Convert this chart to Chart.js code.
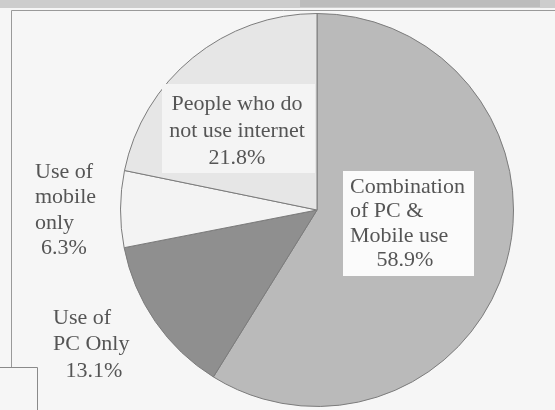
<!DOCTYPE html>
<html>
<head>
<meta charset="utf-8">
<script src="https://cdn.jsdelivr.net/npm/chart.js@4.4.1/dist/chart.umd.min.js"></script>
<style>
  html, body { margin: 0; padding: 0; background: #f6f6f6; }
  #wrap { width: 555px; height: 410px; }
</style>
</head>
<body>
<div id="wrap"><canvas id="pie"></canvas></div>
<script>
// internet usage shares, clockwise from 12 o'clock
const categories = [
    ["Combination", "of PC &", "Mobile use"],
    ["Use of", "PC Only"],
    ["Use of", "mobile", "only"],
    ["People who do", "not use internet"],
];
const shares = [58.9, 13.1, 6.3, 21.8];
const sliceColors = ["#bababa", "#8f8f8f", "#f3f3f3", "#e6e6e6"];

// where each label sits (text line centres, optional backing box)
const labelLayout = [
    { x: 350, y: 187, lineH: 24.5, align: "left", pctX: 405, box: [343, 171, 131, 105, "#fbfbfb"] },
    { x: 53, y: 318, lineH: 26.5, align: "left", pctX: 94 },
    { x: 35, y: 172, lineH: 25.5, align: "left", pctX: 64 },
    { x: 237, y: 104, lineH: 27, align: "center", pctX: 237, box: [162, 84, 153, 89, "#f4f4f4"] },
];

const framePlugin = {
    id: "frame",
    beforeDraw(chart) {
        const ctx = chart.ctx;
        ctx.save();
        ctx.fillStyle = "#f6f6f6";
        ctx.fillRect(0, 0, chart.width, chart.height);
        // strip along the top edge
        ctx.fillStyle = "#cdcdcd";
        ctx.fillRect(0, 0, chart.width, 8);
        ctx.fillStyle = "#bcbcbc";
        ctx.fillRect(300, 0, 240, 7);
        ctx.strokeStyle = "#9a9a9a";
        ctx.lineWidth = 1;
        ctx.beginPath();
        ctx.moveTo(11.5, chart.height - 43);
        ctx.lineTo(11.5, 10.5);
        ctx.lineTo(chart.width, 10.5);
        ctx.stroke();
        // small box bottom-left
        ctx.strokeStyle = "#8a8a8a";
        ctx.beginPath();
        ctx.moveTo(0, 367.5);
        ctx.lineTo(37.5, 367.5);
        ctx.lineTo(37.5, chart.height);
        ctx.stroke();
        ctx.restore();
    }
};

const labelPlugin = {
    id: "sliceLabels",
    afterDatasetsDraw(chart) {
        const ctx = chart.ctx;
        ctx.save();
        ctx.font = "22px 'Liberation Serif', 'Times New Roman', serif";
        ctx.textBaseline = "middle";
        categories.forEach((lines, i) => {
            const lay = labelLayout[i];
            if (lay.box) {
                const [bx, by, bw, bh, bc] = lay.box;
                ctx.fillStyle = bc;
                ctx.fillRect(bx, by, bw, bh);
            }
            ctx.fillStyle = "#555555";
            lines.forEach((t, j) => {
                ctx.textAlign = lay.align;
                ctx.fillText(t, lay.x, lay.y + j * lay.lineH);
            });
            ctx.textAlign = "center";
            ctx.fillText(shares[i].toFixed(1) + "%", lay.pctX, lay.y + lines.length * lay.lineH);
        });
        ctx.restore();
    }
};

new Chart(document.getElementById("pie"), {
    type: "pie",
    data: {
        labels: categories.map(c => c.join(" ")),
        datasets: [{
            data: shares,
            backgroundColor: sliceColors,
            borderColor: "#7c7c7c",
            borderWidth: 1,
        }],
    },
    options: {
        responsive: true,
        maintainAspectRatio: false,
        animation: false,
        layout: { padding: { left: 120, right: 41, top: 13, bottom: 3 } },
        plugins: {
            legend: { display: false },
            tooltip: { enabled: false },
        },
    },
    plugins: [framePlugin, labelPlugin],
});
</script>
</body>
</html>
